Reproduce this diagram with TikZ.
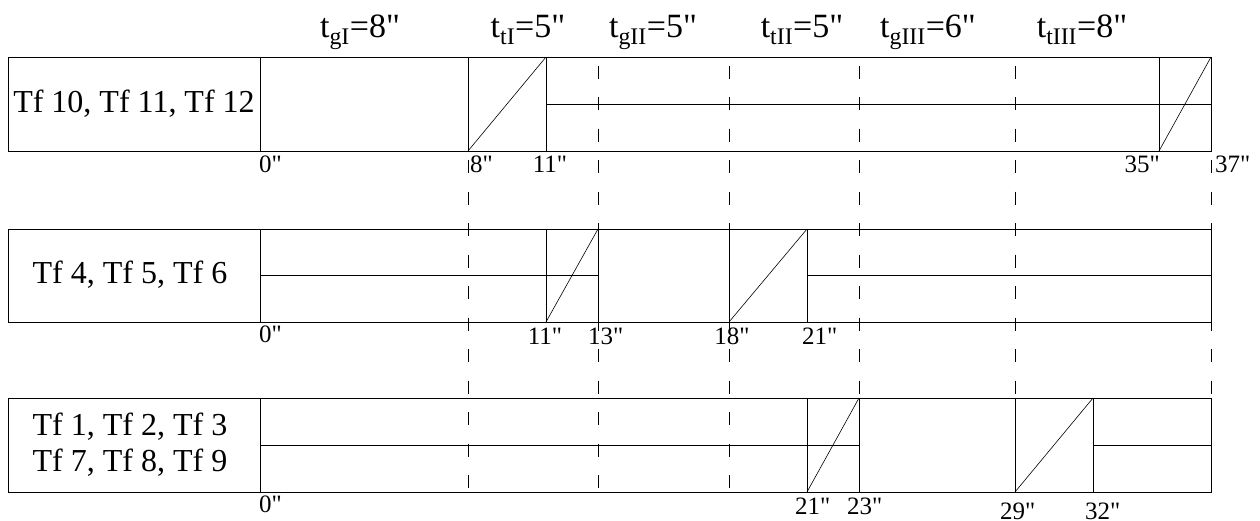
\documentclass[tikz,border=0pt]{standalone}
\usepackage{fontspec}
\setmainfont{Liberation Serif}[Ligatures=TeXOff]

\begin{document}
\begin{tikzpicture}[x=1pt, y=-1pt,
  frame/.style={line width=0.9pt},
  ramp/.style={line width=0.6pt},
  guide/.style={line width=0.8pt, dash pattern=on 13pt off 18.5pt, dash phase=23pt},
  rowlbl/.style={font=\fontsize{32}{36}\selectfont, align=center, inner sep=0pt},
  hdr/.style={font=\fontsize{34}{37}\selectfont, inner sep=0pt, anchor=base},
  sec/.style={font=\fontsize{25}{28}\selectfont, inner sep=0pt}
]
\useasboundingbox (0,0) rectangle (1260,520);

% phase boundaries
\foreach \x in {468,598,729,859,1015,1211}
  \draw[guide] (\x,57) -- (\x,492);

% headers
\node[hdr] (hgI)   at (360,37)  {t\textsubscript{gI}=8"};
\node[hdr] (htI)   at (528,37)  {t\textsubscript{tI}=5"};
\node[hdr] (hgII)  at (653,37)  {t\textsubscript{gII}=5"};
\node[hdr] (htII)  at (802,37)  {t\textsubscript{tII}=5"};
\node[hdr] (hgIII) at (928,37)  {t\textsubscript{gIII}=6"};
\node[hdr] (htIII) at (1082,37) {t\textsubscript{tIII}=8"};

% row a: Tf 10-12
\draw[frame] (8,57) rectangle (1211,151);
\draw[frame] (260,57) -- (260,151);
\node[rowlbl] (rowa) at (134,104) {Tf 10, Tf 11, Tf 12};
\draw[frame] (468,57) -- (468,151) (546,57) -- (546,151) (1159,57) -- (1159,151);
\draw[ramp] (468,151) -- (546,57);
\draw[ramp] (1159,151) -- (1211,57);
\draw[frame] (546,104) -- (1211,104);
\node[sec, anchor=north west] (a0)  at (259,156)  {0"};
\node[sec, anchor=north west] (a8)  at (470,156)  {8"};
\node[sec, anchor=north]      (a11) at (550,156)  {11"};
\node[sec, anchor=north east] (a35) at (1160,156) {35"};
\node[sec, anchor=north west] (a37) at (1215,156) {37"};

% row b: Tf 4-6
\draw[frame] (8,229) rectangle (1211,322);
\draw[frame] (260,229) -- (260,322);
\node[rowlbl] (rowb) at (130,275) {Tf 4, Tf 5, Tf 6};
\draw[frame] (260,275) -- (598,275);
\draw[frame] (546,229) -- (546,322) (598,229) -- (598,322);
\draw[ramp] (546,322) -- (598,229);
\draw[frame] (729,229) -- (729,322) (807,229) -- (807,322);
\draw[ramp] (729,322) -- (807,229);
\draw[frame] (807,275) -- (1211,275);
\node[sec, anchor=north west] (b0)  at (259,326) {0"};
\node[sec, anchor=north]      (b11) at (545,328) {11"};
\node[sec, anchor=north west] (b13) at (588,328) {13"};
\node[sec, anchor=north]      (b18) at (732,328) {18"};
\node[sec, anchor=north west] (b21) at (802,328) {21"};

% row c: Tf 1-3, Tf 7-9
\draw[frame] (8,398) rectangle (1211,492);
\draw[frame] (260,398) -- (260,492);
\node[rowlbl] (rowc) at (130,445) {Tf 1, Tf 2, Tf 3\\Tf 7, Tf 8, Tf 9};
\draw[frame] (260,445) -- (859,445);
\draw[frame] (807,398) -- (807,492) (859,398) -- (859,492);
\draw[ramp] (807,492) -- (859,398);
\draw[frame] (1015,398) -- (1015,492) (1093,398) -- (1093,492);
\draw[ramp] (1015,492) -- (1093,398);
\draw[frame] (1093,445) -- (1211,445);
\node[sec, anchor=north west] (c0)  at (259,496)  {0"};
\node[sec, anchor=north west] (c21) at (795,498)  {21"};
\node[sec, anchor=north west] (c23) at (847,498)  {23"};
\node[sec, anchor=north west] (c29) at (1000,503) {29"};
\node[sec, anchor=north west] (c32) at (1085,503) {32"};
\end{tikzpicture}
\end{document}
